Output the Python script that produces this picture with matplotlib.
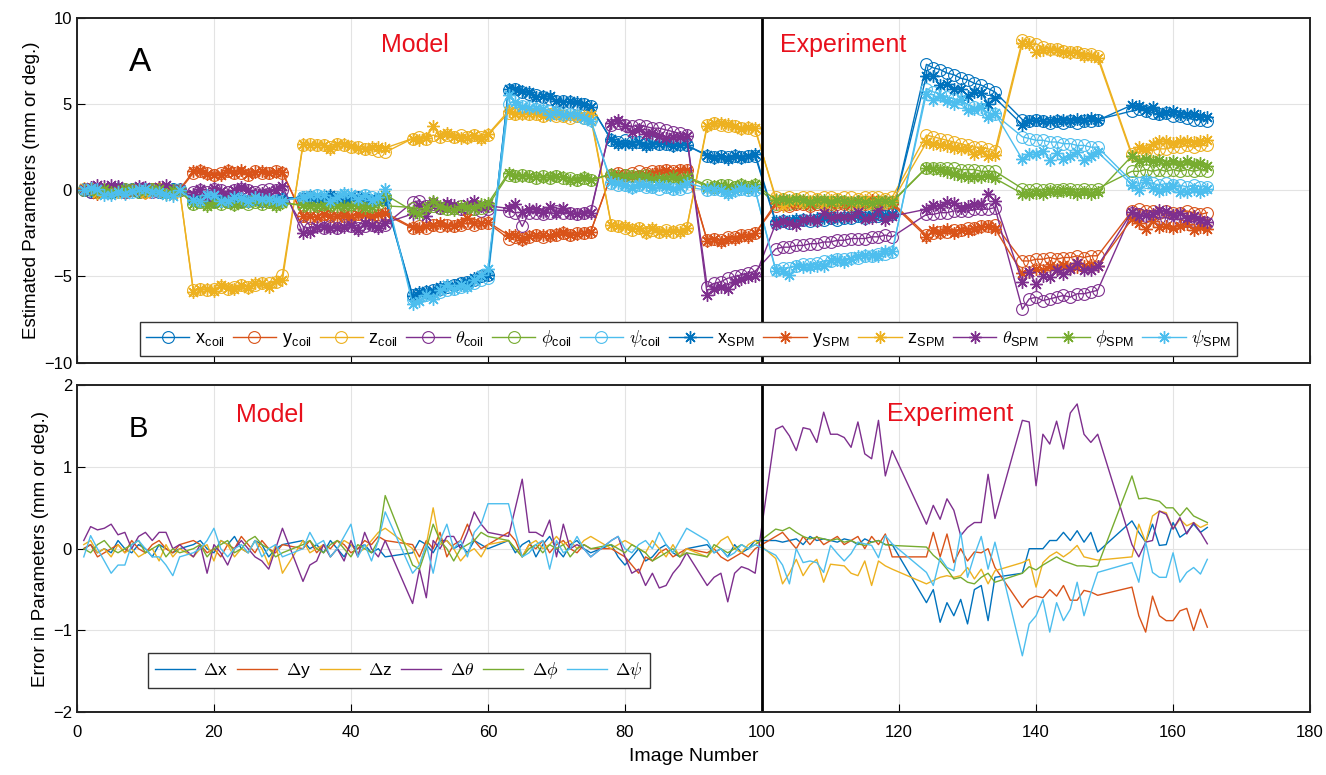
import matplotlib
matplotlib.use("Agg")
import matplotlib.pyplot as plt

# image numbers of each acquisition block (model: 1-99, experiment: 102-165)
blocks = [(1, 15), (17, 30), (33, 45), (49, 60), (63, 75), (78, 89), (92, 99),
          (102, 119), (124, 134), (138, 149), (154, 165)]
image_no = [i for a, b in blocks for i in range(a, b + 1)]

# true coil pose, one line per block
x_coil = [0.0, -0.1, 0.1, 0.0, -0.1, 0.1, 0.0, 0.1, -0.1, 0.0, 0.1, -0.1, 0.0, 0.1, 0.0,
          -0.5, -0.6, -0.5, -0.6, -0.5, -0.6, -0.5, -0.6, -0.6, -0.5, -0.6, -0.5, -0.6, -0.5,
          -0.5, -0.4, -0.6, -0.5, -0.4, -0.5, -0.6, -0.5, -0.4, -0.5, -0.6, -0.5, -0.4,
          -6.1, -6.0, -5.9, -5.8, -5.7, -5.6, -5.5, -5.4, -5.3, -5.2, -5.0, -4.9,
          5.8, 5.9, 5.7, 5.6, 5.5, 5.4, 5.3, 5.2, 5.2, 5.1, 5.0, 5.0, 4.9,
          2.9, 2.8, 2.9, 2.8, 2.8, 2.7, 2.8, 2.7, 2.7, 2.6, 2.7, 2.6,
          2.0, 1.9, 2.0, 1.9, 2.0, 1.9, 2.0, 2.0,
          -1.9, -1.8, -1.9, -1.8, -1.7, -1.8, -1.7, -1.7, -1.6, -1.7, -1.6, -1.6, -1.5, -1.6, -1.5, -1.5, -1.5, -1.4,
          7.3, 7.1, 7.0, 6.8, 6.7, 6.5, 6.4, 6.2, 6.1, 5.9, 5.7,
          4.1, 4.0, 4.1, 4.0, 3.9, 4.0, 3.9, 4.0, 3.9, 4.0, 4.0, 4.1,
          4.6, 4.7, 4.6, 4.5, 4.4, 4.5, 4.3, 4.3, 4.2, 4.1, 4.1, 4.0]
y_coil = [0.0, 0.1, -0.1, 0.0, 0.1, 0.0, -0.1, 0.0, 0.1, -0.1, 0.0, 0.1, 0.0, -0.1, 0.0,
          1.0, 1.1, 1.0, 0.9, 1.0, 1.1, 1.0, 1.0, 0.9, 1.1, 1.0, 1.0, 1.1, 1.0,
          -1.5, -1.6, -1.5, -1.4, -1.5, -1.6, -1.5, -1.5, -1.4, -1.5, -1.6, -1.5, -1.4,
          -2.2, -2.1, -2.2, -2.0, -2.1, -2.0, -2.1, -2.0, -1.9, -2.0, -1.9, -1.9,
          -2.8, -2.7, -2.8, -2.7, -2.6, -2.7, -2.6, -2.6, -2.5, -2.6, -2.5, -2.5, -2.4,
          0.9, 1.0, 0.9, 1.0, 1.1, 1.0, 1.1, 1.1, 1.2, 1.1, 1.2, 1.2,
          -2.9, -2.8, -2.9, -2.7, -2.7, -2.6, -2.6, -2.5,
          -0.9, -0.8, -0.9, -0.8, -0.8, -0.9, -0.8, -0.8, -0.9, -0.8, -0.8, -0.9, -0.8, -0.8, -0.7, -0.8, -0.8, -0.7,
          -2.6, -2.5, -2.4, -2.4, -2.3, -2.3, -2.2, -2.2, -2.1, -2.1, -2.0,
          -4.1, -4.1, -4.0, -4.0, -3.9, -4.0, -3.9, -3.9, -3.8, -3.9, -3.8, -3.8,
          -1.2, -1.1, -1.2, -1.2, -1.3, -1.2, -1.3, -1.3, -1.2, -1.3, -1.4, -1.3]
z_coil = [0.1, 0.0, -0.1, 0.0, 0.1, -0.1, 0.0, 0.0, 0.1, -0.1, 0.0, 0.1, 0.0, -0.1, 0.0,
          -5.8, -5.7, -5.8, -5.7, -5.6, -5.7, -5.6, -5.5, -5.6, -5.5, -5.4, -5.4, -5.3, -4.9,
          2.6, 2.7, 2.6, 2.6, 2.5, 2.7, 2.6, 2.5, 2.5, 2.4, 2.4, 2.3, 2.2,
          3.0, 3.1, 3.0, 3.2, 3.1, 3.2, 3.1, 3.2, 3.1, 3.2, 3.1, 3.2,
          4.5, 4.4, 4.5, 4.4, 4.4, 4.3, 4.4, 4.3, 4.3, 4.2, 4.3, 4.2, 4.2,
          -2.0, -2.1, -2.2, -2.3, -2.2, -2.4, -2.3, -2.4, -2.3, -2.4, -2.3, -2.2,
          3.8, 3.9, 3.8, 3.7, 3.7, 3.6, 3.6, 3.5,
          -0.4, -0.5, -0.4, -0.5, -0.4, -0.4, -0.5, -0.4, -0.4, -0.5, -0.4, -0.4, -0.5, -0.4, -0.4, -0.4, -0.5, -0.4,
          3.2, 3.1, 3.0, 2.9, 2.8, 2.7, 2.6, 2.5, 2.5, 2.4, 2.3,
          8.7, 8.6, 8.5, 8.3, 8.2, 8.2, 8.1, 8.0, 8.0, 7.9, 7.9, 7.8,
          2.1, 2.2, 2.3, 2.3, 2.4, 2.4, 2.5, 2.5, 2.6, 2.5, 2.6, 2.6]
theta_coil = [0.0, -0.1, 0.1, 0.0, 0.0, 0.1, -0.1, 0.0, 0.1, 0.0, -0.1, 0.0, 0.1, 0.0, 0.0,
              -0.1, 0.0, -0.1, 0.1, 0.0, -0.1, 0.0, 0.1, 0.0, -0.1, 0.0, 0.1, 0.0, 0.0,
              -2.1, -2.2, -2.0, -2.2, -2.1, -2.2, -2.0, -2.1, -2.2, -2.1, -2.0, -2.1, -2.0,
              -0.7, -0.6, -0.9, -0.8, -1.0, -0.9, -1.0, -1.1, -1.0, -1.1, -1.2, -1.1,
              -1.2, -1.3, -2.1, -1.3, -1.3, -1.4, -1.3, -1.2, -1.3, -1.3, -1.4, -1.3, -1.2,
              3.8, 3.9, 3.8, 3.7, 3.8, 3.7, 3.6, 3.6, 3.5, 3.4, 3.3, 3.2,
              -5.6, -5.4, -5.3, -5.1, -5.0, -4.9, -4.8, -4.7,
              -3.4, -3.3, -3.3, -3.2, -3.2, -3.1, -3.1, -3.0, -3.0, -2.9, -2.9, -2.8, -2.8, -2.8, -2.7, -2.7, -2.6, -2.7,
              -1.4, -1.4, -1.3, -1.3, -1.2, -1.2, -1.2, -1.1, -1.1, -1.1, -1.0,
              -6.9, -6.3, -6.2, -6.4, -6.3, -6.2, -6.1, -6.2, -6.0, -6.0, -5.9, -5.8,
              -1.3, -1.4, -1.5, -1.5, -1.6, -1.6, -1.7, -1.7, -1.8, -1.8, -1.9, -1.9]
phi_coil = [0.0, 0.1, -0.1, 0.0, -0.1, 0.0, 0.1, 0.0, -0.1, 0.0, 0.1, 0.0, -0.1, 0.0, 0.0,
            -0.8, -0.7, -0.8, -0.7, -0.8, -0.7, -0.8, -0.7, -0.8, -0.7, -0.8, -0.7, -0.8, -0.7,
            -0.9, -1.0, -0.9, -0.8, -0.9, -1.0, -0.9, -0.8, -0.9, -1.0, -0.9, -0.8, -0.9,
            -1.0, -1.1, -1.0, -0.9, -1.0, -1.1, -1.0, -0.9, -1.0, -1.1, -1.0, -0.9,
            0.9, 0.8, 0.9, 0.8, 0.7, 0.8, 0.7, 0.8, 0.7, 0.7, 0.6, 0.7, 0.6,
            0.9, 0.8, 0.9, 0.8, 0.8, 0.9, 0.8, 0.8, 0.7, 0.8, 0.7, 0.8,
            0.3, 0.2, 0.3, 0.3, 0.2, 0.3, 0.2, 0.3,
            -0.8, -0.7, -0.8, -0.7, -0.7, -0.8, -0.7, -0.7, -0.8, -0.7, -0.7, -0.8, -0.7, -0.7, -0.8, -0.7, -0.7, -0.7,
            1.3, 1.3, 1.3, 1.3, 1.3, 1.2, 1.2, 1.2, 1.1, 1.1, 1.1,
            0.1, 0.0, 0.1, 0.0, 0.1, 0.0, 0.1, 0.1, 0.0, 0.1, 0.0, 0.1,
            1.1, 1.1, 1.2, 1.1, 1.2, 1.1, 1.2, 1.1, 1.2, 1.1, 1.2, 1.1]
psi_coil = [0.1, 0.0, 0.1, -0.1, 0.0, 0.1, 0.0, -0.1, 0.0, 0.1, 0.0, 0.0, -0.1, 0.0, 0.1,
            -0.5, -0.6, -0.4, -0.5, -0.6, -0.5, -0.4, -0.5, -0.6, -0.5, -0.4, -0.5, -0.6, -0.5,
            -0.4, -0.5, -0.3, -0.4, -0.5, -0.4, -0.3, -0.5, -0.4, -0.3, -0.4, -0.5, -0.4,
            -6.3, -6.2, -6.1, -6.0, -5.9, -5.8, -5.7, -5.6, -5.5, -5.4, -5.2, -5.1,
            5.0, 4.9, 4.9, 4.8, 4.7, 4.6, 4.6, 4.5, 4.4, 4.4, 4.3, 4.2, 4.1,
            0.4, 0.3, 0.3, 0.2, 0.3, 0.2, 0.2, 0.1, 0.2, 0.1, 0.1, 0.2,
            0.0, 0.1, 0.0, -0.1, 0.0, 0.1, 0.0, 0.0,
            -4.6, -4.5, -4.5, -4.4, -4.3, -4.3, -4.2, -4.1, -4.1, -4.0, -4.0, -3.9, -3.9, -3.8, -3.8, -3.7, -3.7, -3.6,
            5.9, 5.7, 5.6, 5.4, 5.3, 5.1, 5.0, 4.8, 4.7, 4.5, 4.4,
            3.1, 3.0, 2.9, 2.9, 2.8, 2.8, 2.7, 2.7, 2.6, 2.6, 2.5, 2.5,
            0.5, 0.4, 0.5, 0.4, 0.3, 0.4, 0.3, 0.3, 0.2, 0.3, 0.2, 0.2]

# estimation errors (SPM estimate minus coil pose)
dx = [0.0, 0.05, -0.05, 0.0, -0.05, 0.1, 0.0, -0.05, 0.05, 0.0, -0.1, 0.05, 0.0, -0.05, 0.0,
      0.05, 0.1, 0.0, -0.05, 0.1, 0.05, 0.15, 0.0, -0.05, 0.1, 0.05, -0.1, 0.0, 0.05,
      0.1, 0.0, 0.05, -0.05, 0.1, 0.0, -0.1, 0.05, 0.0, 0.05, -0.05, 0.0, -0.1,
      -0.05, 0.1, 0.05, -0.05, 0.1, 0.1, 0.0, 0.05, -0.05, 0.1, 0.05, 0.0,
      0.1, -0.05, 0.05, 0.1, -0.1, 0.05, 0.15, 0.0, -0.1, 0.05, 0.1, 0.0, -0.05,
      0.05, -0.1, -0.2, -0.1, 0.0, -0.15, -0.1, 0.0, 0.05, -0.05, -0.1, 0.0,
      0.05, -0.05, 0.0, -0.1, 0.05, -0.05, 0.0, 0.1,
      0.1, 0.08, 0.1, 0.12, 0.05, 0.15, 0.1, 0.12, 0.1, 0.08, 0.12, 0.1, 0.05, 0.12, 0.08, 0.1, 0.05, 0.05,
      -0.66, -0.5, -0.9, -0.66, -0.82, -0.62, -0.92, -0.5, -0.45, -0.88, -0.35,
      -0.3, 0.0, 0.0, 0.0, 0.1, 0.1, 0.2, 0.1, 0.22, 0.08, 0.2, -0.04,
      0.34, 0.2, 0.08, 0.3, 0.04, 0.05, 0.32, 0.14, 0.2, 0.3, 0.2, 0.26]
dy = [0.0, 0.05, -0.1, -0.05, 0.0, 0.05, -0.05, 0.1, 0.0, -0.05, 0.05, 0.1, 0.0, -0.05, 0.05,
      0.1, 0.05, -0.05, 0.0, -0.1, 0.05, 0.0, 0.15, 0.05, -0.05, 0.1, 0.0, -0.05, 0.05,
      0.0, 0.1, -0.05, 0.05, 0.0, 0.1, 0.05, -0.05, 0.0, 0.1, 0.05, 0.15, 0.1,
      0.05, -0.1, 0.1, 0.0, 0.2, -0.1, 0.05, 0.1, 0.3, 0.1, 0.0, 0.05,
      0.2, 0.1, -0.1, 0.05, 0.0, 0.1, -0.05, 0.05, 0.1, 0.0, -0.05, 0.05, 0.0,
      0.0, -0.05, -0.1, -0.2, -0.3, -0.1, -0.15, -0.05, 0.0, -0.1, -0.05, 0.0,
      -0.05, 0.0, -0.1, -0.15, -0.1, -0.05, -0.1, 0.0,
      0.15, 0.2, 0.1, 0.0, 0.15, 0.05, 0.15, 0.05, 0.1, 0.15, 0.05, 0.1, 0.15, 0.0, 0.15, 0.05, 0.18, -0.1,
      -0.1, 0.2, -0.1, 0.18, -0.17, 0.0, -0.15, -0.04, -0.05, 0.0, -0.23,
      -0.72, -0.62, -0.58, -0.6, -0.5, -0.58, -0.45, -0.63, -0.63, -0.51, -0.53, -0.57,
      -0.47, -0.82, -1.02, -0.58, -0.82, -0.88, -0.88, -0.76, -0.73, -1.0, -0.74, -0.96]
dz = [0.05, 0.1, -0.05, 0.0, -0.1, 0.05, -0.05, 0.0, -0.1, -0.05, 0.0, -0.15, 0.05, -0.1, 0.0,
      -0.1, 0.0, 0.05, -0.15, 0.1, 0.05, -0.1, 0.0, -0.05, 0.1, 0.0, -0.2, 0.05, -0.3,
      0.1, -0.05, 0.0, 0.05, -0.1, 0.0, 0.1, 0.05, -0.05, 0.0, 0.1, 0.2, 0.25,
      0.0, -0.2, 0.05, 0.5, 0.05, 0.1, 0.0, -0.15, -0.05, 0.0, -0.1, 0.05,
      0.1, 0.0, -0.1, 0.05, 0.1, 0.0, 0.05, 0.15, 0.05, 0.1, 0.0, 0.1, 0.15,
      0.0, 0.05, 0.1, 0.05, 0.0, -0.05, 0.1, 0.0, -0.1, 0.05, -0.1, 0.0,
      -0.1, 0.0, 0.1, 0.15, 0.0, -0.05, 0.05, 0.1,
      -0.12, -0.43, -0.3, -0.13, -0.33, -0.2, -0.13, -0.41, -0.19, -0.2, -0.21, -0.3, -0.33, -0.15, -0.45, -0.15, -0.21, -0.25,
      -0.43, -0.39, -0.35, -0.33, -0.35, -0.33, -0.23, -0.37, -0.25, -0.43, -0.27,
      -0.17, -0.13, -0.47, -0.17, -0.09, -0.04, -0.1, -0.04, 0.04, -0.1, -0.12, -0.14,
      -0.1, 0.3, 0.08, 0.4, 0.46, 0.44, 0.24, 0.36, 0.28, 0.32, 0.26, 0.3]
dtheta = [0.1, 0.27, 0.23, 0.25, 0.3, 0.17, 0.2, 0.0, 0.15, 0.2, 0.1, 0.2, 0.2, 0.0, 0.05,
          -0.1, 0.05, -0.3, 0.05, -0.05, -0.2, 0.0, 0.1, 0.0, -0.1, -0.15, -0.25, 0.0, 0.25,
          -0.4, -0.2, -0.15, 0.05, -0.1, 0.0, -0.15, 0.1, -0.1, 0.2, 0.0, -0.1, 0.1,
          -0.67, -0.25, -0.6, 0.1, 0.0, 0.15, 0.15, 0.0, 0.2, 0.45, 0.3, 0.2,
          0.15, 0.5, 0.85, 0.2, 0.2, 0.15, 0.35, -0.1, 0.3, 0.0, 0.05, 0.0, -0.1,
          0.1, 0.15, -0.1, -0.3, -0.25, -0.45, -0.3, -0.48, -0.45, -0.3, -0.2, -0.05,
          -0.45, -0.35, -0.3, -0.65, -0.3, -0.22, -0.25, -0.3,
          1.46, 1.5, 1.38, 1.2, 1.48, 1.46, 1.3, 1.67, 1.4, 1.4, 1.36, 1.24, 1.55, 1.16, 1.1, 1.57, 0.89, 1.2,
          0.3, 0.53, 0.36, 0.61, 0.47, 0.16, 0.26, 0.32, 0.32, 0.91, 0.37,
          1.57, 1.55, 0.77, 1.4, 1.28, 1.56, 1.22, 1.66, 1.77, 1.4, 1.3, 1.4,
          0.05, -0.1, 0.08, 0.1, 0.46, 0.42, 0.24, 0.38, 0.18, 0.32, 0.2, 0.06]
dphi = [0.0, -0.05, 0.05, 0.1, 0.0, -0.05, 0.0, 0.05, 0.1, -0.05, 0.0, 0.05, -0.1, 0.0, -0.05,
        0.0, 0.05, -0.1, 0.0, 0.05, 0.1, -0.05, 0.0, 0.1, 0.15, 0.05, 0.0, -0.1, -0.05,
        0.05, 0.1, 0.0, -0.05, 0.05, 0.1, 0.0, -0.1, 0.05, 0.0, -0.05, 0.1, 0.65,
        -0.2, -0.25, 0.0, 0.3, 0.1, 0.0, -0.15, 0.0, 0.05, 0.1, 0.2, 0.15,
        0.1, 0.0, -0.1, 0.0, 0.05, -0.05, 0.05, 0.0, 0.05, -0.1, 0.0, 0.05, 0.0,
        0.05, 0.0, -0.05, 0.05, 0.0, -0.05, -0.15, -0.1, -0.05, 0.0, -0.1, -0.05,
        -0.1, 0.05, 0.0, -0.05, 0.0, 0.05, 0.0, 0.05,
        0.24, 0.22, 0.26, 0.2, 0.15, 0.12, 0.14, 0.12, 0.1, 0.12, 0.08, 0.1, 0.06, 0.04, 0.08, 0.1, 0.05, 0.04,
        0.02, -0.08, -0.15, -0.25, -0.37, -0.35, -0.41, -0.43, -0.35, -0.3, -0.41,
        -0.3, -0.22, -0.26, -0.2, -0.15, -0.1, -0.15, -0.18, -0.21, -0.21, -0.22, -0.21,
        0.89, 0.61, 0.62, 0.6, 0.58, 0.5, 0.5, 0.4, 0.5, 0.4, 0.36, 0.32]
dpsi = [-0.1, 0.16, 0.0, -0.15, -0.3, -0.2, -0.2, 0.05, 0.1, 0.0, -0.1, -0.1, -0.2, -0.33, -0.1,
        -0.05, 0.0, 0.1, 0.25, 0.0, -0.1, 0.0, 0.05, -0.05, 0.1, -0.1, 0.0, 0.05, -0.1,
        0.0, 0.2, 0.05, 0.1, -0.1, 0.0, 0.15, 0.3, -0.1, 0.05, -0.15, 0.1, 0.45,
        -0.3, -0.2, 0.05, -0.3, 0.1, 0.3, 0.0, 0.1, -0.1, 0.2, 0.3, 0.55,
        0.55, 0.2, -0.1, -0.05, 0.05, 0.1, -0.25, 0.1, -0.05, 0.0, 0.15, 0.0, -0.1,
        0.1, 0.15, 0.0, -0.05, 0.05, 0.1, 0.0, 0.2, 0.05, -0.05, 0.1, 0.25,
        0.1, -0.05, 0.0, -0.1, -0.05, 0.05, 0.0, 0.05,
        -0.08, -0.2, -0.43, 0.0, -0.17, -0.15, -0.17, -0.29, 0.04, -0.06, -0.15, -0.06, 0.08, 0.06, 0.04, -0.11, 0.16, 0.06,
        -0.29, -0.45, -0.11, -0.23, -0.27, 0.2, -0.35, -0.08, 0.15, -0.25, 0.08,
        -1.31, -0.92, -0.82, -0.62, -1.02, -0.66, -0.88, -0.74, -0.41, -0.82, -0.54, -0.29,
        -0.17, -0.41, 0.08, -0.29, -0.35, -0.35, -0.05, -0.41, -0.29, -0.23, -0.31, -0.13]

coil = [x_coil, y_coil, z_coil, theta_coil, phi_coil, psi_coil]
errors = [dx, dy, dz, dtheta, dphi, dpsi]
spm = [[c + d for c, d in zip(cs, ds)] for cs, ds in zip(coil, errors)]

names = ['x', 'y', 'z', r'$\theta$', r'$\phi$', r'$\psi$']
colors = ['#0072BD', '#D95319', '#EDB120', '#7E2F8E', '#77AC30', '#4DBEEE']
err_labels = [r'$\Delta$x', r'$\Delta$y', r'$\Delta$z', r'$\Delta\theta$', r'$\Delta\phi$', r'$\Delta\psi$']


def sub(n, s):
    if n.startswith('$'):
        return n[:-1] + r'_{\mathregular{%s}}$' % s
    return n + r'$_{\mathregular{%s}}$' % s


plt.rcParams['font.family'] = ['Liberation Sans', 'DejaVu Sans']
plt.rcParams['mathtext.fontset'] = 'cm'

fig = plt.figure(figsize=(13.26, 7.75), dpi=100)
ax1 = fig.add_axes([0.058, 0.532, 0.930, 0.445])
ax2 = fig.add_axes([0.058, 0.081, 0.930, 0.422])

asterisk = (8, 2, 0)  # MATLAB-style '*'
for vals, name, col in zip(coil, names, colors):
    ax1.plot(image_no, vals, '-', marker='o', color=col, lw=1, ms=8.5, mfc='none', mew=0.8,
             label=sub(name, 'coil'))
for vals, name, col in zip(spm, names, colors):
    ax1.plot(image_no, vals, '-', marker=asterisk, color=col, lw=1, ms=9, mew=1.0,
             label=sub(name, 'SPM'))
for vals, lab, col in zip(errors, err_labels, colors):
    ax2.plot(image_no, vals, '-', color=col, lw=1, label=lab)

for ax, ylim, yt in [(ax1, (-10, 10), [-10, -5, 0, 5, 10]), (ax2, (-2, 2), [-2, -1, 0, 1, 2])]:
    ax.set_xlim(0, 180)
    ax.set_ylim(*ylim)
    ax.set_xticks(range(0, 181, 20))
    ax.set_yticks(yt)
    ax.grid(True, color='#e3e3e3', lw=0.8)
    ax.set_axisbelow(True)
    ax.tick_params(direction='in', length=6, labelsize=12, top=False, right=False)
    ax.tick_params(axis='x', pad=9)
    ax.axvline(100, color='black', lw=2)
    for sp in ax.spines.values():
        sp.set_linewidth(1.4)
        sp.set_color('#222222')

ax1.tick_params(labelbottom=False)
ax1.set_ylabel('Estimated Parameters (mm or deg.)', fontsize=13.5, labelpad=3)
ax2.set_ylabel('Error in Parameters (mm or deg.)', fontsize=13.5, labelpad=3)
ax2.set_xlabel('Image Number', fontsize=14, labelpad=6)

ax1.text(9.2, 7.4, 'A', fontsize=24, ha='center', va='center')
ax1.text(49.3, 8.4, 'Model', fontsize=18, color='#e8101c', ha='center', va='center')
ax1.text(111.8, 8.4, 'Experiment', fontsize=18, color='#e8101c', ha='center', va='center')
ax2.text(8.9, 1.47, 'B', fontsize=21, ha='center', va='center')
ax2.text(28.2, 1.63, 'Model', fontsize=18, color='#e8101c', ha='center', va='center')
ax2.text(127.4, 1.65, 'Experiment', fontsize=18, color='#e8101c', ha='center', va='center')

leg1 = ax1.legend(loc='lower center', bbox_to_anchor=(0.496, 0.02), ncol=12,
                  fontsize=13, handlelength=2.4, handletextpad=0.3, columnspacing=0.45,
                  fancybox=False, edgecolor='#333333', framealpha=1, borderpad=0.35,
                  borderaxespad=0)
leg2 = ax2.legend(loc='lower left', bbox_to_anchor=(0.0576, 0.073), ncol=6,
                  fontsize=12.5, handlelength=2.3, handletextpad=0.5, columnspacing=0.5,
                  fancybox=False, edgecolor='#333333', framealpha=1, borderpad=0.4,
                  borderaxespad=0)

fig.savefig('out.png', dpi=100)
